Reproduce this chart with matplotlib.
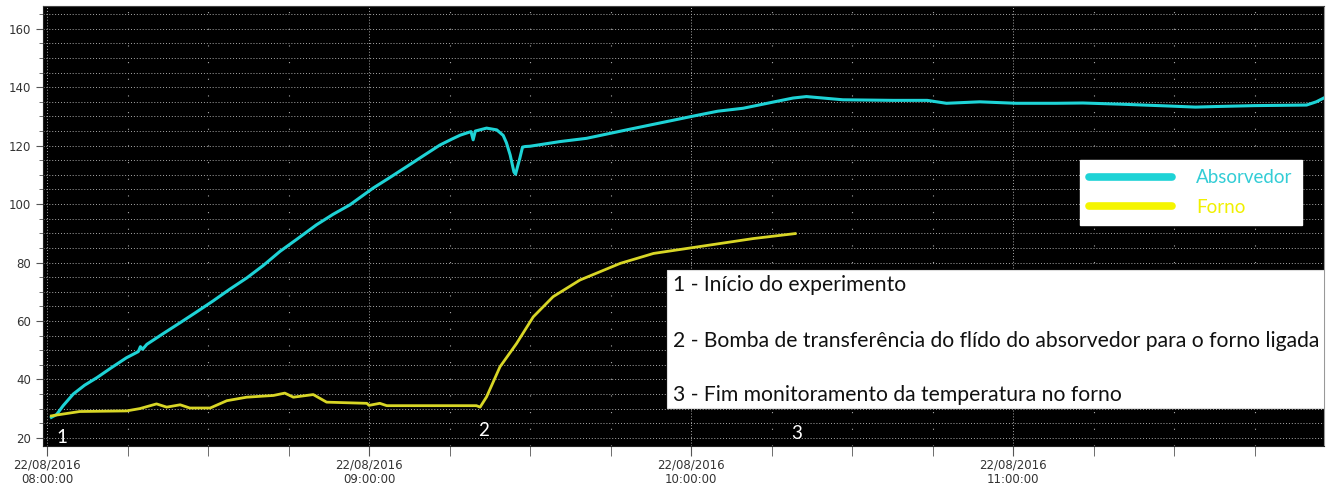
import numpy as np
import pandas as pd
import matplotlib
matplotlib.use('Agg')
import matplotlib.pyplot as plt
import matplotlib.dates as mdates
from matplotlib.lines import Line2D
from matplotlib.patches import Rectangle

# minutes after 22/08/2016 08:00:00 and temperature readings
abs_min = [0.8, 1.8, 3.0, 4.9, 7.0, 9.3, 12.0, 14.8, 17.0, 17.4, 17.8, 18.6, 21.5,
           24.8, 27.8, 30.9, 34.0, 37.2, 40.3, 43.4, 46.8, 50.2, 53.3, 56.4, 60.7,
           63.8, 67.0, 70.0, 73.2, 75.5, 77.0, 79.0, 79.4, 79.8, 81.9, 83.8, 85.0,
           85.6, 86.3, 87.0, 87.3, 87.7, 88.1, 88.6, 89.1, 90.0, 95.6, 100.5, 108.0,
           113.0, 120.1, 125.0, 129.7, 135.0, 139.0, 141.5, 145.2, 148.3, 157.6,
           164.0, 167.6, 173.8, 180.6, 188.0, 193.0, 200.0, 208.6, 214.0, 218.0,
           225.0, 234.7, 236.5, 237.9]
abs_val = [27.0, 28.0, 31.0, 35.0, 38.0, 40.6, 44.0, 47.4, 49.5, 51.2, 50.3, 52.0, 55.5,
           59.4, 63.0, 66.8, 70.8, 74.7, 79.0, 83.8, 88.3, 92.9, 96.5, 99.7, 105.4,
           109.0, 112.8, 116.4, 120.2, 122.3, 123.6, 124.8, 122.0, 125.0, 126.0, 125.4, 123.5,
           121.0, 116.8, 111.0, 110.2, 113.0, 115.7, 119.5, 119.7, 119.8, 121.4, 122.5, 125.4,
           127.3, 130.0, 131.8, 132.8, 134.8, 136.3, 136.8, 136.2, 135.7, 135.5,
           135.5, 134.5, 135.0, 134.5, 134.5, 134.6, 134.2, 133.6, 133.2, 133.4,
           133.7, 133.9, 135.0, 136.3]

forno_min = [0.8, 1.8, 6.1, 14.8, 17.3, 20.4, 22.3, 24.8, 26.6, 30.4, 33.5, 37.2, 42.2,
             44.3, 45.9, 49.6, 52.1, 59.6, 60.0, 62.0, 63.3, 80.0, 80.7, 81.9, 84.4,
             87.5, 90.6, 94.3, 99.3, 106.8, 113.0, 119.2, 125.4, 131.6, 139.4]
forno_val = [27.5, 27.8, 29.0, 29.2, 30.0, 31.6, 30.5, 31.3, 30.2, 30.2, 32.7, 33.9, 34.5,
             35.3, 33.9, 34.8, 32.2, 31.8, 31.1, 31.8, 31.0, 31.0, 30.5, 34.0, 44.3,
             52.3, 61.4, 68.3, 74.0, 79.7, 83.1, 84.8, 86.5, 88.2, 89.9]

series_names = ['Absorvedor', 'Forno']
event_labels = ['1', '2', '3']
event_min = [2.8, 81.4, 139.7]
event_val = [20.2, 22.6, 21.6]
notes = ['1 - Início do experimento',
         '2 - Bomba de transferência do flído do absorvedor para o forno ligada',
         '3 - Fim monitoramento da temperatura no forno']

t0 = pd.Timestamp('2016-08-22 08:00:00')
to_time = lambda m: t0 + pd.to_timedelta(np.asarray(m), unit='m')

cyan = '#1ed3d6'
yellow = '#d8d626'

fig = plt.figure(figsize=(13.32, 4.88), dpi=100)
ax = fig.add_axes([0.0323, 0.0861, 0.9617, 0.9016])
ax.set_facecolor('black')

ax.plot(to_time(abs_min), abs_val, color=cyan, lw=2.2, zorder=3)
ax.plot(to_time(forno_min), forno_val, color=yellow, lw=2.0, zorder=3)

for lab, m, v in zip(event_labels, event_min, event_val):
    ax.text(to_time(m), v, lab, color='white', fontsize=13.5, family='Lato',
            ha='center', va='center', zorder=4)

ax.set_xlim(to_time(-0.75), to_time(237.95))
ax.set_ylim(17.2, 167.8)

ax.xaxis.set_major_locator(mdates.HourLocator())
ax.xaxis.set_minor_locator(mdates.MinuteLocator(byminute=[15, 30, 45]))
ax.xaxis.set_major_formatter(mdates.DateFormatter('%d/%m/%Y\n%H:%M:%S'))
ax.set_yticks(np.arange(20, 161, 20))
ax.set_yticks(np.arange(20, 166, 5), minor=True)

ax.tick_params(axis='x', which='both', length=7, color='#555555', labelsize=8.5,
               labelcolor='#333333', pad=2)
ax.tick_params(axis='y', which='major', length=5, color='#555555', labelsize=8.5,
               labelcolor='#333333')
ax.tick_params(axis='y', which='minor', length=3, color='#555555')

ax.grid(axis='y', which='both', color='#aaaaaa', lw=0.7, ls=(0, (1, 2)))
ax.grid(axis='x', which='major', color='#aaaaaa', lw=0.7, ls=(0, (1, 2)))
ax.grid(axis='x', which='minor', color='#aaaaaa', lw=0.8, ls=(0, (1, 14)))

for side in ['left', 'bottom']:
    ax.spines[side].set_color('#222222')
ax.spines['top'].set_color('#444444')
ax.spines['right'].set_color('#999999')

handles = [Line2D([], [], color=cyan, lw=5.5, solid_capstyle='round'),
           Line2D([], [], color='#f5f500', lw=5.5, solid_capstyle='round')]
leg = ax.legend(handles, series_names, loc='upper left', bbox_to_anchor=(0.8095, 0.65),
                frameon=True, facecolor='white', edgecolor='white', framealpha=1,
                fancybox=False, handlelength=4.4, handletextpad=1.3, borderpad=0.5,
                borderaxespad=0, labelspacing=0.65, prop={'family': 'Lato', 'size': 13.5})
leg.get_texts()[0].set_color('#33cdd6')
leg.get_texts()[1].set_color('#f0f000')
leg.set_zorder(5)

ax.add_patch(Rectangle((0.487, 0.0864), 0.513, 0.3136, transform=ax.transAxes,
                       facecolor='white', edgecolor='#dddddd', lw=0.8, zorder=5))
for note, y in zip(notes, [0.366, 0.239, 0.116]):
    ax.text(0.492, y, note, transform=ax.transAxes, fontsize=15.2, family='Lato',
            color='#111111', ha='left', va='center', zorder=6)

fig.savefig('out.png', dpi=100, facecolor='white')
